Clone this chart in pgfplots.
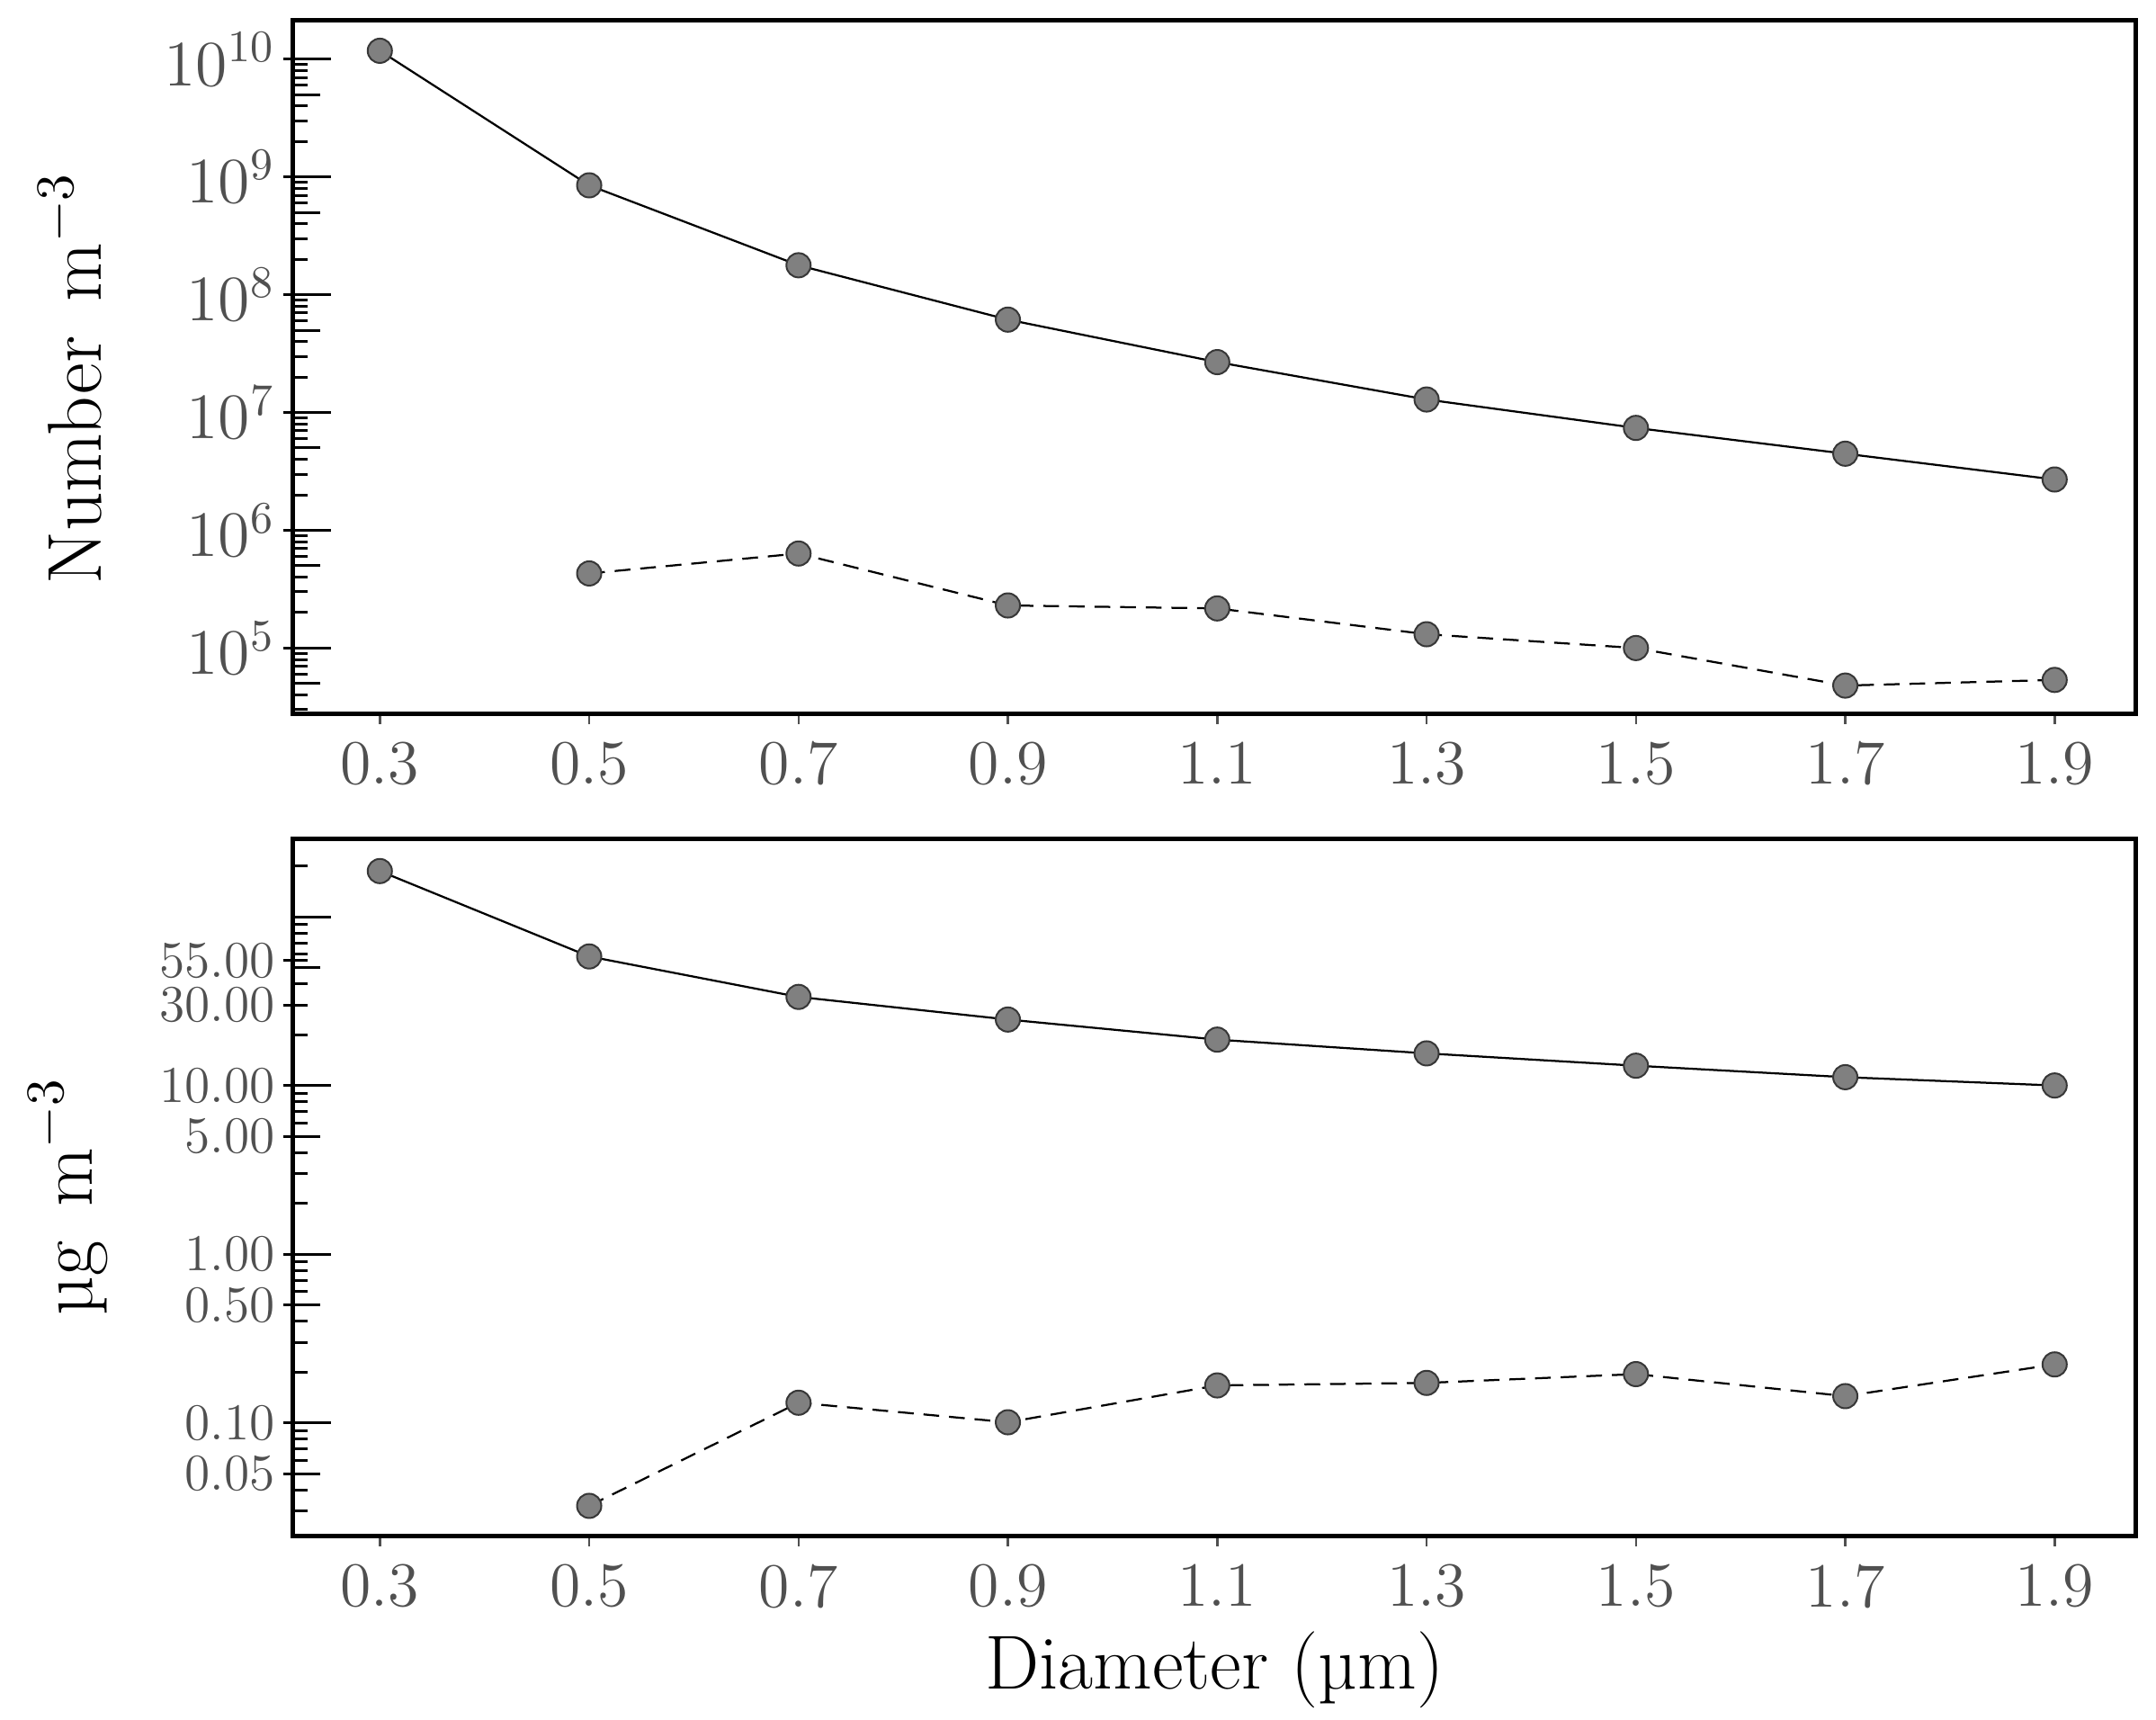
\documentclass[border=0pt]{standalone}
\usepackage{pgfplots}
\pgfplotsset{compat=1.18}
\definecolor{tickgray}{RGB}{80,80,80}
\definecolor{mfill}{RGB}{128,128,128}
\definecolor{medge}{RGB}{55,55,55}

\pgfplotstableread{
x y
0.3 1.18e10
0.5 8.5e8
0.7 1.78e8
0.9 6.15e7
1.1 2.68e7
1.3 1.29e7
1.5 7.4e6
1.7 4.47e6
1.9 2.7e6
}\topsolid
\pgfplotstableread{
x y
0.5 4.3e5
0.7 6.35e5
0.9 2.3e5
1.1 2.17e5
1.3 1.31e5
1.5 1.0e5
1.7 4.8e4
1.9 5.36e4
}\topdashed
\pgfplotstableread{
x y
0.3 186.7
0.5 58.2
0.7 33.5
0.9 24.6
1.1 18.7
1.3 15.5
1.5 13.1
1.7 11.2
1.9 10.0
}\botsolid
\pgfplotstableread{
x y
0.5 0.0322
0.7 0.1316
0.9 0.1008
1.1 0.1667
1.3 0.1725
1.5 0.1945
1.7 0.144
1.9 0.222
}\botdashed

\pgfplotsset{
  myBase/.style={scale only axis, width=409.76pt, xmin=0.217, xmax=1.9775,
    anchor=south west},
  myInner/.style={myBase, xtick=\empty, yticklabels={}, tick align=inside,
    ytick pos=left,
    major tick length=8.4pt, minor tick length=3.2pt,
    extra y tick labels={}, extra y tick style={major tick length=6pt},
    tick style={black, line width=0.6pt},
    axis line style={line width=1pt},
    ylabel style={font=\fontsize{17}{20}\selectfont, anchor=center},
    xlabel style={font=\fontsize{17}{20}\selectfont, anchor=base}},
  myOuter/.style={myBase, axis lines*=left, axis line style={line width=1pt},
    tick align=outside, major tick length=2.2pt,
    minor tick style={draw=none},
    xtick={0.3,0.5,0.7,0.9,1.1,1.3,1.5,1.7,1.9},
    xticklabels={0.3,0.5,0.7,0.9,1.1,1.3,1.5,1.7,1.9},
    xtick style={tickgray, line width=0.5pt},
    ytick style={black, line width=0.6pt},
    xticklabel style={font=\fontsize{14}{16}\selectfont, text=tickgray, inner ysep=3.8pt},
    yticklabel style={text=tickgray, inner xsep=1.6pt}},
  mySolid/.style={black, line width=0.45pt, mark=*, mark size=2.7pt,
    mark options={fill=mfill, draw=medge, line width=0.4pt, solid}},
  myDash/.style={black, line width=0.45pt, dash pattern=on 3.5pt off 2.2pt,
    mark=*, mark size=2.7pt,
    mark options={fill=mfill, draw=medge, line width=0.4pt, solid}},
}

\begin{document}
\begin{tikzpicture}
% ---------- top panel ----------
\begin{axis}[ymode=log, myInner, height=154.14pt, at={(65.14pt,223.68pt)},
  ymin=2.76e4, ymax=2.13e10,
  ytick={1e5,1e6,1e7,1e8,1e9,1e10},
  extra y ticks={5e4,5e5,5e6,5e7,5e8,5e9},
  minor ytick={3e4,4e4,6e4,7e4,8e4,9e4,
    2e5,3e5,4e5,6e5,7e5,8e5,9e5,
    2e6,3e6,4e6,6e6,7e6,8e6,9e6,
    2e7,3e7,4e7,6e7,7e7,8e7,9e7,
    2e8,3e8,4e8,6e8,7e8,8e8,9e8,
    2e9,3e9,4e9,6e9,7e9,8e9,9e9},
  ylabel={Number\hspace{0.45em}m$^{-3}$},
  ylabel style={at={(axis description cs:-0.121,0.484)}},
]
\addplot[mySolid] table[x=x,y=y] {\topsolid};
\addplot[myDash] table[x=x,y=y] {\topdashed};
\end{axis}
\begin{axis}[ymode=log, myOuter, height=154.14pt, at={(65.14pt,223.68pt)},
  ymin=2.76e4, ymax=2.13e10,
  ytick={1e5,1e6,1e7,1e8,1e9,1e10},
  yticklabels={$10^{5}$,$10^{6}$,$10^{7}$,$10^{8}$,$10^{9}$,$10^{10}$},
  yticklabel style={font=\fontsize{14}{16}\selectfont},
]
\end{axis}
% ---------- bottom panel ----------
\begin{axis}[ymode=log, myInner, height=155.06pt, at={(65.14pt,40.8pt)},
  ymin=0.0212, ymax=289,
  ytick={0.1,1,10,100},
  extra y ticks={0.05,0.5,5,50},
  minor ytick={0.03,0.04,0.06,0.07,0.08,0.09,
    0.2,0.3,0.4,0.6,0.7,0.8,0.9,
    2,3,4,6,7,8,9,
    20,30,40,55,60,70,80,90,200},
  ylabel={µg\hspace{0.45em}m$^{-3}$},
  ylabel style={at={(axis description cs:-0.122,0.4877)}},
  xlabel={Diameter (µm)},
  xlabel style={at={(axis description cs:0.5,-0.2186)}},
]
\addplot[mySolid] table[x=x,y=y] {\botsolid};
\addplot[myDash] table[x=x,y=y] {\botdashed};
\end{axis}
\begin{axis}[ymode=log, myOuter, height=155.06pt, at={(65.14pt,40.8pt)},
  ymin=0.0212, ymax=289,
  ytick={0.05,0.1,0.5,1,5,10,30,55},
  yticklabels={0.05,0.10,0.50,1.00,5.00,10.00,30.00,55.00},
  yticklabel style={font=\fontsize{11.5}{13}\selectfont, inner ysep=0pt},
]
\end{axis}
\pgfresetboundingbox
\path[use as bounding box] (0,0) rectangle (479.4pt,382.4pt);
\end{tikzpicture}
\end{document}
